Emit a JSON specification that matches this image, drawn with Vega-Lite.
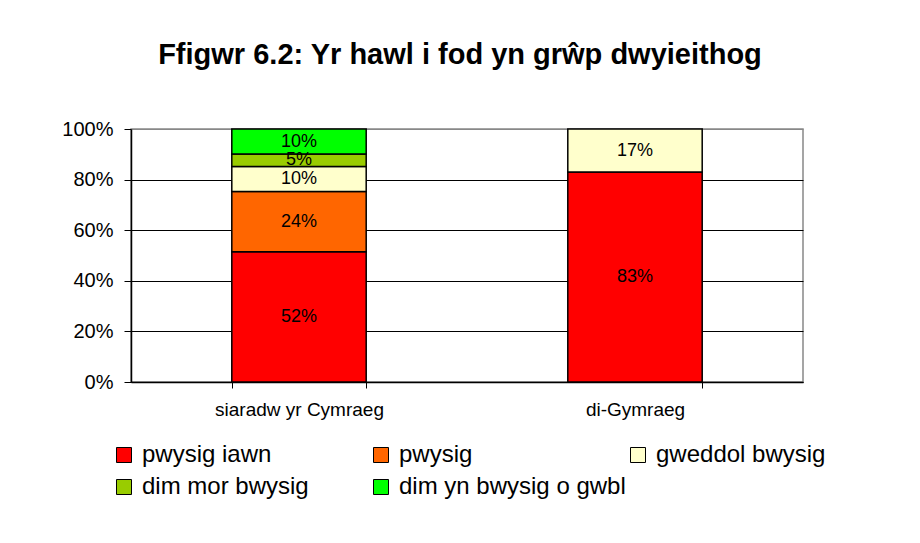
{
  "$schema": "https://vega.github.io/schema/vega-lite/v6.json",
  "autosize": {"type": "none"},
  "width": 672,
  "height": 253,
  "padding": {"left": 131, "top": 129, "right": 117, "bottom": 161},
  "background": "white",
  "title": {
    "text": "Ffigwr 6.2: Yr hawl i fod yn grŵp dwyieithog",
    "font": "Liberation Sans",
    "fontSize": 29,
    "fontWeight": "bold",
    "color": "black",
    "anchor": "middle",
    "dx": -7,
    "offset": 49
  },
  "config": {
    "font": "Liberation Sans",
    "view": {"stroke": "#888888", "strokeWidth": 1.5}
  },
  "data": {
    "values": [
      {"group": "siaradw yr Cymraeg", "cat": "pwysig iawn", "value": 0.52, "rank": 1},
      {"group": "siaradw yr Cymraeg", "cat": "pwysig", "value": 0.24, "rank": 2},
      {"group": "siaradw yr Cymraeg", "cat": "gweddol bwysig", "value": 0.10, "rank": 3},
      {"group": "siaradw yr Cymraeg", "cat": "dim mor bwysig", "value": 0.05, "rank": 4},
      {"group": "siaradw yr Cymraeg", "cat": "dim yn bwysig o gwbl", "value": 0.10, "rank": 5},
      {"group": "di-Gymraeg", "cat": "pwysig iawn", "value": 0.83, "rank": 1},
      {"group": "di-Gymraeg", "cat": "gweddol bwysig", "value": 0.17, "rank": 3}
    ]
  },
  "encoding": {
    "x": {
      "field": "group",
      "type": "nominal",
      "sort": ["siaradw yr Cymraeg", "di-Gymraeg"],
      "scale": {"paddingInner": 0.6, "paddingOuter": 0.3},
      "axis": {
        "title": null,
        "labelAngle": 0,
        "labelFontSize": 19,
        "labelColor": "black",
        "labelPadding": 12,
        "tickBand": "extent",
        "tickSize": 6,
        "tickColor": "black",
        "domainColor": "black",
        "domainWidth": 1.5
      }
    },
    "y": {
      "field": "value",
      "type": "quantitative",
      "stack": "normalize",
      "scale": {"domain": [0, 1], "nice": false},
      "axis": {
        "title": null,
        "values": [0, 0.2, 0.4, 0.6, 0.8, 1],
        "format": ".0%",
        "labelFontSize": 20,
        "labelColor": "black",
        "labelPadding": 11,
        "tickSize": 7,
        "tickColor": "black",
        "domainColor": "black",
        "domainWidth": 1.5,
        "grid": true,
        "gridColor": {"condition": {"test": "datum.value === 1", "value": "#888888"}, "value": "#000000"},
        "gridWidth": 1
      }
    },
    "order": {"field": "rank", "type": "quantitative", "sort": "ascending"}
  },
  "layer": [
    {
      "mark": {"type": "bar", "stroke": "black", "strokeWidth": 1.5},
      "encoding": {
        "color": {
          "field": "cat",
          "type": "nominal",
          "scale": {
            "domain": ["pwysig iawn", "pwysig", "gweddol bwysig", "dim mor bwysig", "dim yn bwysig o gwbl"],
            "range": ["#FF0000", "#FF6600", "#FFFFCC", "#99CC00", "#00FF00"]
          },
          "legend": {
            "title": null,
            "orient": "none",
            "legendX": -19,
            "legendY": 314,
            "direction": "horizontal",
            "columns": 3,
            "gridAlign": "all",
            "columnPadding": 0,
            "rowPadding": 8,
            "symbolType": "square",
            "symbolSize": 225,
            "symbolStrokeColor": "black",
            "symbolStrokeWidth": 1,
            "symbolOpacity": 1,
            "labelFontSize": 24,
            "labelColor": "black",
            "labelOffset": 6,
            "labelLimit": 400
          }
        }
      }
    },
    {
      "mark": {"type": "text", "fontSize": 18, "color": "black", "baseline": "middle"},
      "encoding": {
        "y": {"field": "value", "type": "quantitative", "stack": "normalize", "bandPosition": 0.5},
        "text": {"field": "value", "type": "quantitative", "format": ".0%"}
      }
    }
  ]
}
